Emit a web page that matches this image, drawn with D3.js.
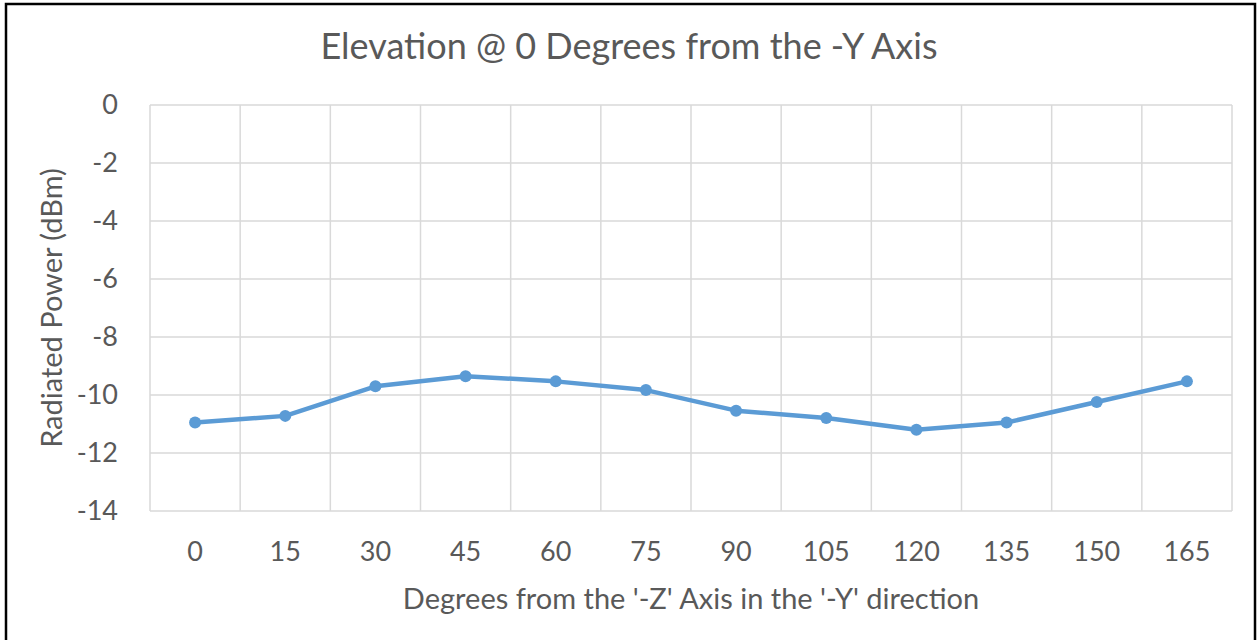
<!DOCTYPE html>
<html>
<head>
<meta charset="utf-8">
<script src="https://cdn.jsdelivr.net/npm/d3@7"></script>
<style>
  body { margin: 0; background: #fff; }
  text { font-family: Lato, "Open Sans", sans-serif; fill: #595959; }
</style>
</head>
<body>
<div id="chart"></div>
<script>
// data
const angles = ["0", "15", "30", "45", "60", "75", "90", "105", "120", "135", "150", "165"];
const power = [-10.95, -10.72, -9.70, -9.35, -9.53, -9.83, -10.54, -10.79, -11.2, -10.95, -10.24, -9.53];
const yTicks = [0, -2, -4, -6, -8, -10, -12, -14];

const width = 1257, height = 640;
const margin = {top: 105, right: 25, bottom: 129, left: 150};

const svg = d3.select("#chart")
  .append("svg")
  .attr("width", width)
  .attr("height", height);

// outer frame
svg.append("rect")
  .attr("x", 6).attr("y", 4)
  .attr("width", 1249).attr("height", 640)
  .attr("fill", "#fff")
  .attr("stroke", "#000")
  .attr("stroke-width", 2.5);

const x = d3.scaleBand()
  .domain(angles)
  .range([margin.left, width - margin.right]);

const y = d3.scaleLinear()
  .domain([-14, 0])
  .range([height - margin.bottom, margin.top]);

// horizontal grid
svg.append("g")
  .selectAll("line")
  .data(yTicks)
  .enter().append("line")
    .attr("x1", margin.left).attr("x2", width - margin.right)
    .attr("y1", d => y(d)).attr("y2", d => y(d))
    .attr("stroke", "#d9d9d9").attr("stroke-width", 1.5);

// vertical grid on category boundaries
const bounds = angles.map(a => x(a)).concat([x(angles[angles.length - 1]) + x.bandwidth()]);
svg.append("g")
  .selectAll("line")
  .data(bounds)
  .enter().append("line")
    .attr("x1", d => d).attr("x2", d => d)
    .attr("y1", y(0)).attr("y2", y(-14))
    .attr("stroke", "#d9d9d9").attr("stroke-width", 1.5);

// y tick labels
svg.append("g")
  .selectAll("text")
  .data(yTicks)
  .enter().append("text")
    .attr("x", 118)
    .attr("y", d => y(d))
    .attr("dy", "0.35em")
    .attr("text-anchor", "end")
    .attr("font-size", 27)
    .text(d => d);

// x tick labels
svg.append("g")
  .selectAll("text")
  .data(angles)
  .enter().append("text")
    .attr("x", d => x(d) + x.bandwidth() / 2)
    .attr("y", 552)
    .attr("dy", "0.35em")
    .attr("text-anchor", "middle")
    .attr("font-size", 27)
    .text(d => d);

// line + markers
const line = d3.line()
  .x((d, i) => x(angles[i]) + x.bandwidth() / 2)
  .y(d => y(d));

svg.append("path")
  .datum(power)
  .attr("d", line)
  .attr("fill", "none")
  .attr("stroke", "#5b9bd5")
  .attr("stroke-width", 4.5)
  .attr("stroke-linejoin", "round");

svg.append("g")
  .selectAll("circle")
  .data(power)
  .enter().append("circle")
    .attr("cx", (d, i) => x(angles[i]) + x.bandwidth() / 2)
    .attr("cy", d => y(d))
    .attr("r", 6)
    .attr("fill", "#5b9bd5");

// titles
svg.append("text")
  .attr("x", 629).attr("y", 46)
  .attr("dy", "0.35em")
  .attr("text-anchor", "middle")
  .attr("font-size", 36)
  .text("Elevation @ 0 Degrees from the -Y Axis");

svg.append("text")
  .attr("x", 691).attr("y", 599)
  .attr("dy", "0.35em")
  .attr("text-anchor", "middle")
  .attr("font-size", 29)
  .text("Degrees from the '-Z' Axis in the '-Y' direction");

svg.append("text")
  .attr("transform", "translate(52,308) rotate(-90)")
  .attr("dy", "0.35em")
  .attr("text-anchor", "middle")
  .attr("font-size", 29)
  .text("Radiated Power (dBm)");
</script>
</body>
</html>
